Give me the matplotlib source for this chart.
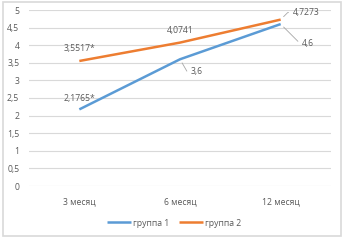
import matplotlib.pyplot as plt
from matplotlib.patches import Rectangle

months = ['3 месяц', '6 месяц', '12 месяц']
group1 = [2.1765, 3.6, 4.6]
group2 = [3.5517, 4.0741, 4.7273]
labels1 = ['2,1765*', '3,6', '4,6']
labels2 = ['3,5517*', '4,0741', '4,7273']
yticks = [0, 0.5, 1, 1.5, 2, 2.5, 3, 3.5, 4, 4.5, 5]

plt.rcParams['font.family'] = ['Open Sans', 'DejaVu Sans']
text_col = '#595959'
grid_col = '#D9D9D9'
fs = 6.2

fig = plt.figure(figsize=(3.46, 2.42), dpi=100)
fig.patches.append(Rectangle((2.5 / 346, 6 / 242), 338 / 346, 234 / 242, transform=fig.transFigure,
                             facecolor='none', edgecolor=grid_col, lw=1.2))
ax = fig.add_axes([29 / 346, (242 - 186) / 242, 302 / 346, 176 / 242])

x = range(len(months))
ax.plot(x, group1, color='#5B9BD5', lw=1.8, solid_capstyle='butt', label='группа 1')
ax.plot(x, group2, color='#ED7D31', lw=1.8, solid_capstyle='butt', label='группа 2')

ax.set_xlim(-0.5, len(months) - 0.5)
ax.set_ylim(0, 5)
ax.set_yticks(yticks)
ax.set_yticklabels([('%g' % v).replace('.', ',') for v in yticks])
ax.set_xticks(list(x))
ax.set_xticklabels(months)
ax.tick_params(length=0, labelsize=fs, labelcolor=text_col)
ax.tick_params(axis='y', pad=7)
ax.tick_params(axis='x', pad=8)
ax.grid(axis='y', color=grid_col, lw=0.8)
ax.set_axisbelow(True)
for s in ax.spines.values():
    s.set_visible(False)

kw = dict(textcoords='offset pixels', fontsize=fs, color=text_col)
lead = dict(arrowstyle='-', color='#A6A6A6', lw=0.6, shrinkA=1, shrinkB=3)

# labels above points
ax.annotate(labels1[0], (0, group1[0]), xytext=(0, 11), ha='center', va='center', **kw)
ax.annotate(labels2[0], (0, group2[0]), xytext=(0, 12), ha='center', va='center', **kw)
ax.annotate(labels2[1], (1, group2[1]), xytext=(0, 12), ha='center', va='center', **kw)

# labels with leader lines
ax.annotate(labels1[1], (1, group1[1]), xytext=(11, -12), ha='left', va='center',
            arrowprops=dict(connectionstyle='angle,angleA=180,angleB=-60,rad=0', **lead), **kw)
ax.annotate(labels2[2], (2, group2[2]), xytext=(12, 7), ha='left', va='center',
            arrowprops=dict(connectionstyle='angle,angleA=180,angleB=45,rad=0', **lead), **kw)
ax.annotate(labels1[2], (2, group1[2]), xytext=(21, -19), ha='left', va='center',
            arrowprops=dict(connectionstyle='angle,angleA=180,angleB=-45,rad=0', **lead), **kw)

fig.legend(loc='center', bbox_to_anchor=(174 / 346, 1 - 223 / 242), ncol=2, frameon=False,
           fontsize=fs, labelcolor=text_col, handlelength=2.8, handletextpad=0.2, columnspacing=1.2)

fig.savefig('out.png', dpi=100)
